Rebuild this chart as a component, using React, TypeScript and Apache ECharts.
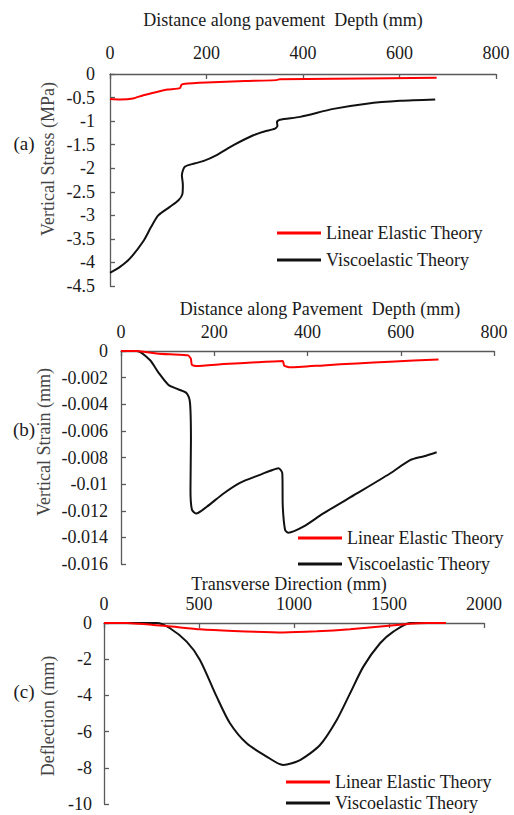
import React, { useEffect, useRef } from "react";
import * as echarts from "echarts";

// ---------- DATA ----------
// (a) Vertical stress (MPa) vs. depth (mm)
const stressLinear: [number, number][] = [
  [0, -0.53], [20, -0.54], [48, -0.52], [69, -0.45], [97, -0.38], [120, -0.33],
  [145, -0.3], [148, -0.23], [152, -0.21], [200, -0.18], [280, -0.15], [345, -0.13],
  [352, -0.11], [463, -0.1], [580, -0.09], [677, -0.08],
];
const stressVisco: [number, number][] = [
  [0, -4.22], [20, -4.1], [41, -3.92], [69, -3.55], [85, -3.25], [100, -3.0],
  [124, -2.82], [142, -2.68], [150, -2.55], [151, -2.35], [149, -2.15], [155, -1.97],
  [175, -1.9], [193, -1.85], [221, -1.72], [256, -1.51], [297, -1.3], [320, -1.22],
  [342, -1.16], [347, -1.1], [346, -1.02], [352, -0.97], [394, -0.91], [463, -0.74],
  [532, -0.63], [601, -0.57], [674, -0.54],
];
// (b) Vertical strain vs. depth (mm)
const strainLinear: [number, number][] = [
  [0, 0], [34, 0], [77, -0.00018], [105, -0.00025], [144, -0.00033], [150, -0.0006],
  [152, -0.00105], [162, -0.00113], [220, -0.00098], [291, -0.00085], [347, -0.00075],
  [350, -0.0011], [363, -0.00123], [434, -0.00108], [506, -0.00093], [577, -0.0008],
  [681, -0.00063],
];
const strainVisco: [number, number][] = [
  [0, 0], [34, 0], [62, -0.00068], [80, -0.0016], [102, -0.00255], [123, -0.00288],
  [141, -0.00318], [148, -0.0039], [150, -0.0067], [149, -0.0104], [152, -0.0119],
  [161, -0.0122], [184, -0.0117], [220, -0.0107], [255, -0.0099], [298, -0.0093],
  [320, -0.009], [338, -0.0088], [346, -0.0092], [347, -0.0117], [352, -0.01345],
  [359, -0.01365], [391, -0.0132], [434, -0.0122], [506, -0.0107], [577, -0.0092],
  [620, -0.0082], [650, -0.0079], [677, -0.0076],
];
// (c) Deflection (mm) vs. transverse direction (mm)
const deflLinear: [number, number][] = [
  [0, 0], [117, 0], [330, -0.17], [505, -0.35], [681, -0.44], [944, -0.52],
  [1120, -0.46], [1295, -0.35], [1470, -0.18], [1611, -0.04], [1700, 0], [1800, 0],
];
const deflVisco: [number, number][] = [
  [0, 0], [277, 0], [347, -0.29], [435, -1.03], [505, -2.04], [593, -4.07],
  [663, -5.54], [751, -6.65], [856, -7.38], [944, -7.85], [1032, -7.57], [1137, -6.74],
  [1225, -5.36], [1295, -3.89], [1365, -2.41], [1453, -1.12], [1523, -0.48], [1611, 0],
  [1800, 0],
];

const seriesNames = ["Linear Elastic Theory", "Viscoelastic Theory"];
const xTitles = [
  "Distance along pavement  Depth (mm)",
  "Distance along Pavement  Depth (mm)",
  "Transverse Direction (mm)",
];
const yTitles = ["Vertical Stress (MPa)", "Vertical Strain (mm)", "Deflection (mm)"];
const panelTags = ["(a)", "(b)", "(c)"];

const FONT = "Liberation Serif";
const RED = "#ff0000";
const BLACK = "#111111";
const AXIS = "#5a5a5a";
const FS = 18;

export default function App() {
  const ref = useRef<HTMLDivElement>(null);
  useEffect(() => {
    if (!ref.current) return;
    const chart = echarts.init(ref.current, undefined, { renderer: "svg" });

    const grids = [
      { left: 110, top: 74, width: 386, height: 212 },
      { left: 121, top: 351, width: 373, height: 213 },
      { left: 104, top: 623, width: 380, height: 181 },
    ];
    const xCfg = [
      { max: 800, interval: 200, margin: 12 },
      { max: 800, interval: 200, margin: 10 },
      { max: 2000, interval: 500, margin: 10 },
    ];
    const yCfg = [
      { min: -4.5, interval: 0.5, margin: 15 },
      { min: -0.016, interval: 0.002, margin: 13 },
      { min: -10, interval: 2, margin: 12 },
    ];
    const axisCommon = {
      axisLine: { show: true, lineStyle: { color: AXIS, width: 1.3 } },
      axisTick: { show: true, inside: true, length: 5, lineStyle: { color: AXIS, width: 1.3 } },
      splitLine: { show: false },
    };
    const labelStyle = { fontFamily: FONT, fontSize: FS, color: "#1a1a1a" };
    const fmt = (v: number) => String(parseFloat(v.toPrecision(10)));

    const xAxes = xCfg.map((c, i) => ({
      type: "value",
      gridIndex: i,
      position: "top",
      min: 0,
      max: c.max,
      interval: c.interval,
      ...axisCommon,
      axisLabel: { ...labelStyle, margin: c.margin, formatter: fmt },
    }));
    const yAxes = yCfg.map((c, i) => ({
      type: "value",
      gridIndex: i,
      min: c.min,
      max: 0,
      interval: c.interval,
      ...axisCommon,
      axisLabel: { ...labelStyle, margin: c.margin, formatter: fmt },
    }));

    const dataSets = [
      [stressLinear, stressVisco],
      [strainLinear, strainVisco],
      [deflLinear, deflVisco],
    ];
    const series: any[] = [];
    dataSets.forEach((pair, i) => {
      series.push({
        type: "line",
        name: seriesNames[1],
        xAxisIndex: i,
        yAxisIndex: i,
        data: pair[1],
        symbol: "none",
        smooth: 0.25,
        z: 2,
        lineStyle: { color: BLACK, width: 2 },
        itemStyle: { color: BLACK },
      });
      series.push({
        type: "line",
        name: seriesNames[0],
        xAxisIndex: i,
        yAxisIndex: i,
        data: pair[0],
        symbol: "none",
        smooth: 0.15,
        z: 3,
        lineStyle: { color: RED, width: 2 },
        itemStyle: { color: RED },
      });
    });

    const legendPos = [
      { left: 277, top: 224, gap: 9 },
      { left: 298, top: 529, gap: 8 },
      { left: 286, top: 773, gap: 3 },
    ];
    const legends = legendPos.map((p) => ({
      left: p.left,
      top: p.top,
      height: 80,
      orient: "vertical",
      padding: 0,
      itemGap: p.gap,
      itemWidth: 44,
      itemHeight: 3,
      icon: "rect",
      data: seriesNames,
      selectedMode: false,
      textStyle: { fontFamily: FONT, fontSize: FS, color: "#1a1a1a" },
    }));

    const titlePos = [
      { x: 283, y: 20 },
      { x: 320, y: 309 },
      { x: 289, y: 584 },
    ];
    const yTitlePos = [
      { x: 48, y: 159 },
      { x: 44, y: 442 },
      { x: 48, y: 716 },
    ];
    const tagPos = [
      { x: 24, y: 143 },
      { x: 24, y: 429 },
      { x: 24, y: 691 },
    ];
    const graphics: any[] = [];
    xTitles.forEach((t, i) => {
      graphics.push({
        type: "text",
        x: titlePos[i].x,
        y: titlePos[i].y,
        style: {
          text: t,
          fontFamily: FONT,
          fontSize: FS,
          fill: "#1a1a1a",
          textAlign: "center",
          textVerticalAlign: "middle",
        },
      });
    });
    yTitles.forEach((t, i) => {
      graphics.push({
        type: "text",
        x: yTitlePos[i].x,
        y: yTitlePos[i].y,
        rotation: Math.PI / 2,
        style: {
          text: t,
          fontFamily: FONT,
          fontSize: FS,
          fill: "#444444",
          textAlign: "center",
          textVerticalAlign: "middle",
        },
      });
    });
    panelTags.forEach((t, i) => {
      graphics.push({
        type: "text",
        x: tagPos[i].x,
        y: tagPos[i].y,
        style: {
          text: t,
          fontFamily: FONT,
          fontSize: 19,
          fill: "#1a1a1a",
          textAlign: "center",
          textVerticalAlign: "middle",
        },
      });
    });

    chart.setOption({
      animation: false,
      backgroundColor: "#ffffff",
      grid: grids,
      xAxis: xAxes,
      yAxis: yAxes,
      legend: legends,
      series,
      graphic: graphics,
    });
    return () => chart.dispose();
  }, []);

  return (
    <div
      ref={ref}
      style={{ position: "fixed", left: 0, top: 0, width: 514, height: 815 }}
    />
  );
}
